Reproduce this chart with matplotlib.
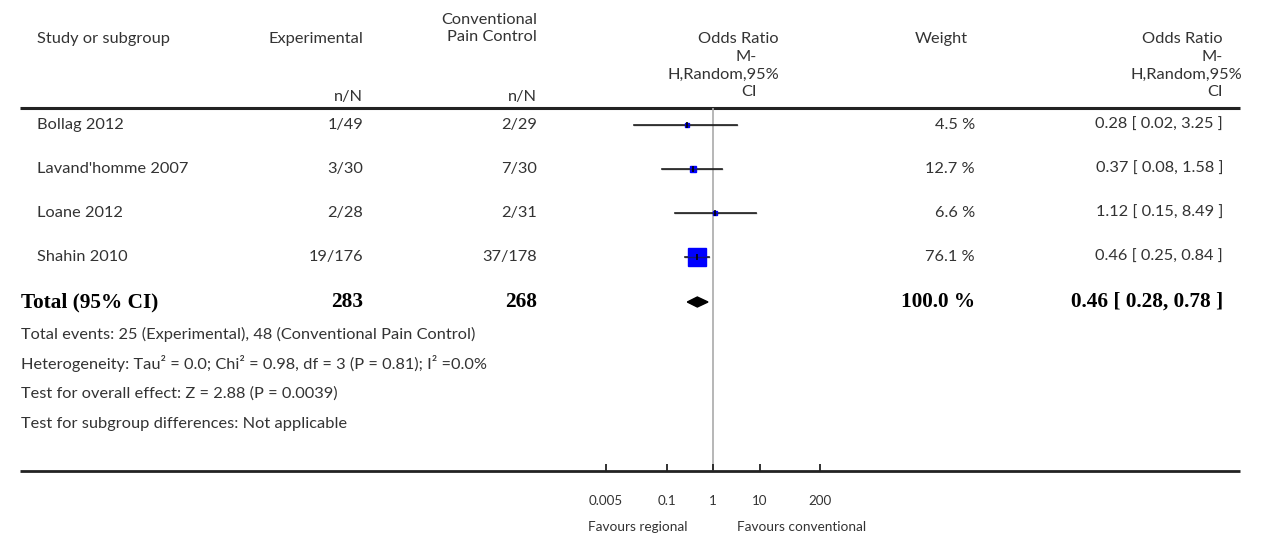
import matplotlib
matplotlib.use("Agg")
import matplotlib.pyplot as plt
import numpy as np

# ---------------- data ----------------
studies = ["Bollag 2012", "Lavand'homme 2007", "Loane 2012", "Shahin 2010"]
exp_nN = ["1/49", "3/30", "2/28", "19/176"]
ctl_nN = ["2/29", "7/30", "2/31", "37/178"]
weights = [4.5, 12.7, 6.6, 76.1]
or_est = [0.28, 0.37, 1.12, 0.46]
or_lo = [0.02, 0.08, 0.15, 0.25]
or_hi = [3.25, 1.58, 8.49, 0.84]
total_exp = "283"
total_ctl = "268"
total_weight = "100.0 %"
total_est, total_lo, total_hi = 0.46, 0.28, 0.78
tick_vals = [0.005, 0.1, 1, 10, 200]
tick_labels = ["0.005", "0.1", "1", "10", "200"]
footer = [
    "Total events: 25 (Experimental), 48 (Conventional Pain Control)",
    "Heterogeneity: Tau\u00b2 = 0.0; Chi\u00b2 = 0.98, df = 3 (P = 0.81); I\u00b2 =0.0%",
    "Test for overall effect: Z = 2.88 (P = 0.0039)",
    "Test for subgroup differences: Not applicable",
]

# ---------------- layout ----------------
W, H = 1267, 538
fig = plt.figure(figsize=(W / 100, H / 100), dpi=100)
bg = fig.add_axes([0, 0, 1, 1])
bg.set_xlim(0, W)
bg.set_ylim(H, 0)
bg.axis("off")

FONT = ["Lato", "DejaVu Sans"]
SERIF = ["Liberation Serif", "DejaVu Serif"]
TC = "#333333"
FS = 11.8
BFS = 15.3

def t(x, y, s, ha="left", fs=FS, **kw):
    kw.setdefault("color", TC)
    kw.setdefault("family", FONT)
    bg.text(x, y, s, ha=ha, va="center", fontsize=fs, **kw)

# header
t(37, 39, "Study or subgroup")
t(363, 39, "Experimental", ha="right")
t(363, 97, "n/N", ha="right")
t(537, 20, "Conventional", ha="right")
t(537, 37, "Pain Control", ha="right")
t(537, 97, "n/N", ha="right")
t(779, 39, "Odds Ratio", ha="right")
t(757, 57, "M-", ha="right")
t(779, 75, "H,Random,95%", ha="right")
t(757, 92, "CI", ha="right")
t(941, 39, "Weight", ha="center")
t(1223, 39, "Odds Ratio", ha="right")
t(1223, 57, "M-", ha="right")
t(1242, 75, "H,Random,95%", ha="right")
t(1223, 92, "CI", ha="right")

# lines
bg.plot([20, 1240], [108, 108], color="#222222", lw=2.2, solid_capstyle="butt")
bg.plot([20, 1240], [471, 471], color="#222222", lw=2.0, solid_capstyle="butt")

# rows
row_y = [125 + 44 * i for i in range(len(studies))]
total_y = 302
for i, y in enumerate(row_y):
    t(37, y, studies[i])
    t(363, y, exp_nN[i], ha="right")
    t(537, y, ctl_nN[i], ha="right")
    t(975, y, f"{weights[i]:.1f} %", ha="right")
    t(1223, y, f"{or_est[i]:.2f} [ {or_lo[i]:.2f}, {or_hi[i]:.2f} ]", ha="right")

bold = dict(family=SERIF, fontweight="bold", color="black")
t(21, total_y, "Total (95% CI)", fs=BFS, **bold)
t(363, total_y, total_exp, ha="right", fs=BFS, **bold)
t(537, total_y, total_ctl, ha="right", fs=BFS, **bold)
t(975, total_y, total_weight, ha="right", fs=BFS, **bold)
t(1223, total_y, f"{total_est:.2f} [ {total_lo:.2f}, {total_hi:.2f} ]", ha="right", fs=BFS, **bold)

for k, s in enumerate(footer):
    t(21, 334 + 30 * k, s)

# ---------------- forest axes ----------------
x0_px, x1_px, xone_px, px_per_dec = 600, 830, 713, 46.5
y_top, y_bot = 108, 471
fax = fig.add_axes([x0_px / W, (H - y_bot) / H, (x1_px - x0_px) / W, (y_bot - y_top) / H])
fax.set_xscale("log")
fax.set_xlim(10 ** ((x0_px - xone_px) / px_per_dec), 10 ** ((x1_px - xone_px) / px_per_dec))
fax.set_ylim(y_bot, y_top)
fax.patch.set_alpha(0)
for sp in fax.spines.values():
    sp.set_visible(False)
fax.set_yticks([])
fax.xaxis.set_minor_locator(matplotlib.ticker.NullLocator())
fax.set_xticks(tick_vals)
fax.set_xticklabels(tick_labels, family=FONT, fontsize=9.6, color=TC)
fax.tick_params(axis="x", direction="in", length=5, width=1.3, color="#222222", pad=17)

fax.axvline(1, color="#aaaaaa", lw=1.2, zorder=1)

wmax = max(weights)
for i, y in enumerate(row_y):
    fax.plot([or_lo[i], or_hi[i]], [y, y], color="#222222", lw=1.2, zorder=2)
    ms = 13.0 * (weights[i] / wmax) ** 0.6
    fax.plot([or_est[i]], [y], marker="s", ms=ms, color="#0000ff", mec="#0000ff", zorder=3)
    fax.plot([or_lo[i], or_hi[i]], [y, y], color="#222222", lw=1.0, alpha=0.6, zorder=4)
    fax.plot([or_est[i]], [y], marker="|", ms=4, color="black", mew=1.2, zorder=5)

dh = 5
fax.fill([total_lo, total_est, total_hi, total_est],
         [total_y, total_y - dh, total_y, total_y + dh], color="black", zorder=3)

# favours labels
t(xone_px - 25, 527, "Favours regional", ha="right", fs=9.8)
t(xone_px + 24, 527, "Favours conventional", ha="left", fs=9.8)

fig.savefig("out.png", dpi=100)
